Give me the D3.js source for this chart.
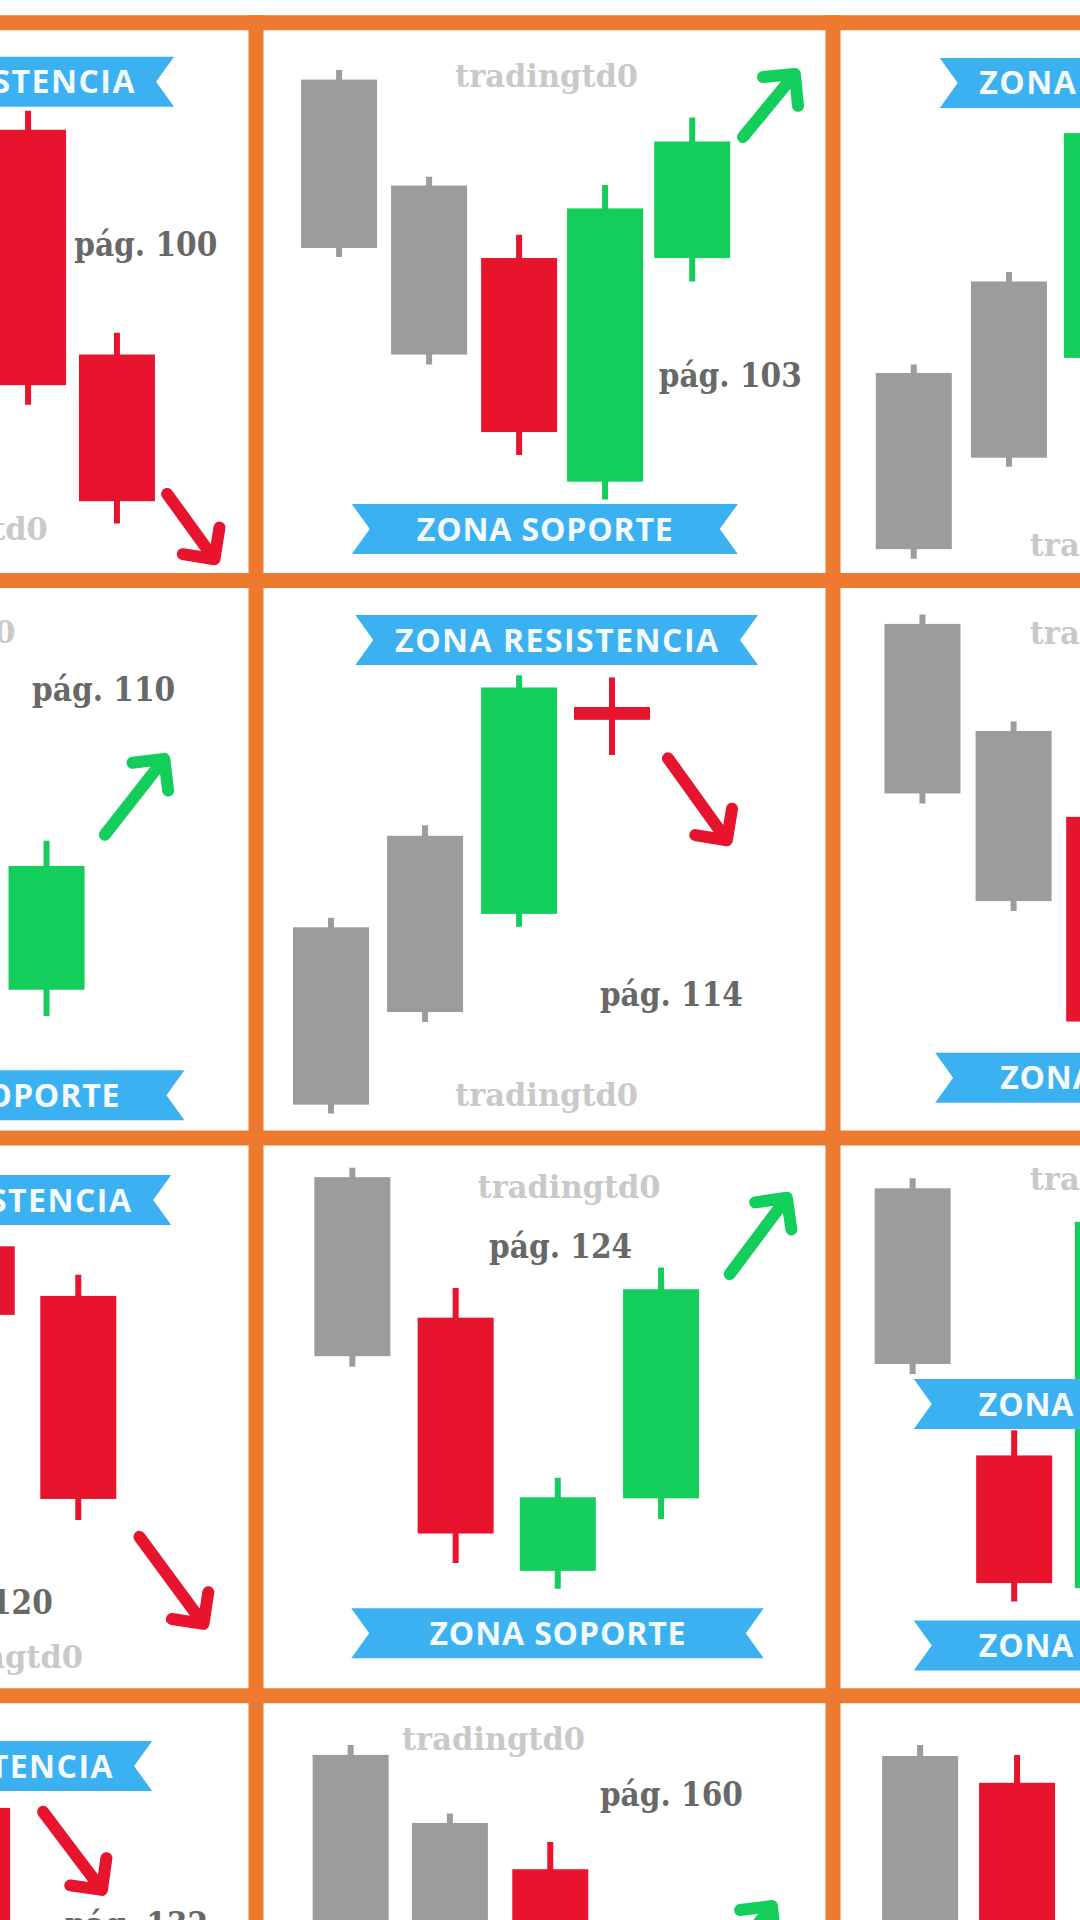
<!DOCTYPE html>
<html><head><meta charset="utf-8">
<script src="https://cdn.jsdelivr.net/npm/d3@7"></script>
<style>html,body{margin:0;padding:0;background:#fff;} svg{display:block;}</style>
</head><body>
<svg id="chart" width="1080" height="1920"></svg>
<script>
// ---------- DATA (panel index = row*3 + col; time 0-100 across a panel, price 0-100 up a panel) ----------
const candlePanel = [0,0, 1,1,1,1,1, 2,2,2, 3, 4,4,4,4, 5,5,5, 6,6, 7,7,7,7, 8,8,8, 9, 10,10,10, 11,11];
const candleTime  = [60.5,75.9, 14.4,30.0,45.6,60.5,75.6, 14.0,30.5,46.6, 63.7, 13.0,29.3,45.6,61.7, 15.5,31.3,47.0, 51.6,69.2, 16.7,34.6,52.3,70.2, 13.8,31.4,48.5, 50.8, 16.4,33.6,51.0, 15.1,31.9];
const candleOpen  = [80.8,40.5, 89.8,70.8,57.8,17.7,57.8, 5.6,22.0,39.9, 26.6, 6.0,22.6,40.2,77.3, 92.2,73.0,57.6, 80.6,71.7, 93.0,67.8,22.4,35.4, 91.0,43.1,19.3, 79.9, 89.4,77.2,68.9, 89.2,84.4];
const candleClose = [35.0,14.2, 59.6,40.5,26.6,66.7,78.7, 37.2,53.6,80.2, 48.8, 37.8,54.2,80.8,75.0, 61.8,42.5,20.9, 68.3,35.3, 60.9,29.1,35.6,72.9, 59.5,20.2,85.0, 45.0, 58.0,45.0,40.0, 55.0,50.0];
const candleHigh  = [84.2,44.4, 91.5,72.4,62.0,70.9,83.0, 38.7,55.3,84.0, 53.3, 39.5,56.1,83.0,82.6, 93.9,74.7,61.0, 83.0,75.5, 94.7,73.1,39.1,76.8, 92.8,47.6,88.0, 83.0, 91.2,78.9,73.8, 91.2,89.4];
const candleLow   = [31.5,10.2, 58.0,38.7,22.5,14.5,53.6, 3.9,20.4,36.0, 21.9, 4.4,20.8,37.9,68.7, 60.0,40.7,17.0, 66.0,31.5, 59.0,23.8,19.2,31.7, 57.7,16.9,16.0, 40.0, 56.0,43.0,36.0, 53.0,46.0];
const candleKind  = ["bear","bear", "prior","prior","bear","bull","bull", "prior","prior","bull", "bull", "prior","prior","bull","bear", "prior","prior","bear", "bear","bear", "prior","bear","bull","bull", "prior","bear","bull", "bear", "prior","prior","bear", "prior","bear"];

const pagePanel  = [0,1,3,4,6,7,9,10];
const pageLabels = ["pág. 100","pág. 103","pág. 110","pág. 114","pág. 120","pág. 124","pág. 132","pág. 160"];
const pageTime   = [68.5,69.8,61.2,59.6,40.0,40.4,66.9,59.6];
const pagePrice  = [58.2,34.7,78.4,23.7,14.7,78.5,56.9,80.2];

const markText  = "tradingtd0";
const markPanel = [0,1,2,3,4,5,6,7,8,10];
const markTime  = [32.2,34.5,34.1,26.6,34.5,34.1,38.3,38.4,34.1,25.3];
const markPrice = [7.2,88.5,4.3,88.7,5.8,88.6,4.9,89.2,90.7,90.2];

const bannerPanel = [0,1,2,3,4,5,6,7,8,8,9];
const bannerText  = ["ZONA RESISTENCIA","ZONA SOPORTE","ZONA RESISTENCIA","ZONA SOPORTE","ZONA RESISTENCIA","ZONA SOPORTE","ZONA RESISTENCIA","ZONA SOPORTE","ZONA SOPORTE","ZONA SOPORTE","ZONA RESISTENCIA"];
const bannerFrom  = [16.1,16.6,18.5,20.7,17.2,17.7,15.4,16.5,14.0,14.0,12.3];
const bannerTo    = [85.8,83.5,88.2,87.6,87.0,84.6,85.3,88.0,80.9,80.9,82.0];
const bannerPrice = [89.4,9.2,89.2,7.7,89.3,10.8,88.9,11.2,52.3,9.0,87.4];

const arrowPanel = [0,1,3,4,6,7,9,10];
const arrowKind  = ["bear","bull","bull","bear","bear","bull","bear","bull"];
const arrowFromT = [84.6,84.4,73.8,71.4,79.8,82.1,63.1,80.1];
const arrowFromP = [15.5,79.5,54.4,68.1,28.5,75.6,79.2,49.9];
const arrowToT   = [92.8,93.4,84.1,81.6,90.9,92.0,73.3,89.4];
const arrowToP   = [3.8,90.8,68.0,53.4,12.9,89.3,65.2,62.3];

// ---------- DRAW ----------
const W = 1080, H = 1920;
const COL0 = -321, COLW = 577, ROW0 = 22.7, ROWH = 557.7;
const colors = {bear:"#E8132C", bull:"#13CE5A", prior:"#9C9C9C"};
const svg = d3.select("#chart");
svg.append("rect").attr("width", W).attr("height", H).attr("fill", "#fff");

const xScales = d3.range(12).map(p => {
  const c = p % 3;
  return d3.scaleLinear().domain([0,100]).range([COL0 + c*COLW, COL0 + (c+1)*COLW]);
});
const yScales = d3.range(12).map(p => {
  const r = Math.floor(p / 3);
  return d3.scaleLinear().domain([0,100]).range([ROW0 + (r+1)*ROWH, ROW0 + r*ROWH]);
});

// watermarks
svg.append("g").selectAll("text").data(markPanel).join("text")
  .attr("x", (p,i) => xScales[p](markTime[i]))
  .attr("y", (p,i) => yScales[p](markPrice[i]))
  .attr("font-family", "DejaVu Serif").attr("font-weight", "bold").attr("font-size", 32)
  .attr("fill", "#C9C9C9").attr("textLength", 183).attr("lengthAdjust", "spacingAndGlyphs")
  .text(markText);

// candles
const candles = candlePanel.map((p,i) => ({p, t:candleTime[i], o:candleOpen[i], c:candleClose[i], h:candleHigh[i], l:candleLow[i], k:candleKind[i]}));
const cg = svg.append("g").selectAll("g").data(candles).join("g");
cg.append("line")
  .attr("x1", d => xScales[d.p](d.t)).attr("x2", d => xScales[d.p](d.t))
  .attr("y1", d => yScales[d.p](d.h)).attr("y2", d => yScales[d.p](d.l))
  .attr("stroke", d => colors[d.k]).attr("stroke-width", 6);
cg.append("rect")
  .attr("x", d => xScales[d.p](d.t) - 38).attr("width", 76)
  .attr("y", d => yScales[d.p](Math.max(d.o, d.c)))
  .attr("height", d => yScales[d.p](Math.min(d.o, d.c)) - yScales[d.p](Math.max(d.o, d.c)))
  .attr("fill", d => colors[d.k]);

// page labels
svg.append("g").selectAll("text").data(pagePanel).join("text")
  .attr("x", (p,i) => xScales[p](pageTime[i]))
  .attr("y", (p,i) => yScales[p](pagePrice[i]))
  .attr("font-family", "DejaVu Serif").attr("font-weight", "bold").attr("font-size", 33)
  .attr("fill", "#686868").attr("textLength", 143).attr("lengthAdjust", "spacingAndGlyphs")
  .text((p,i) => pageLabels[i]);

// arrows
const AL = 32;
svg.append("g").selectAll("path").data(arrowPanel).join("path")
  .attr("d", (p,i) => {
    const x0 = xScales[p](arrowFromT[i]), y0 = yScales[p](arrowFromP[i]);
    const x1 = xScales[p](arrowToT[i]),   y1 = yScales[p](arrowToP[i]);
    const back = Math.atan2(y0 - y1, x0 - x1);
    const a1 = back + Math.PI/4, a2 = back - Math.PI/4;
    const p1 = [x1 + AL*Math.cos(a1), y1 + AL*Math.sin(a1)];
    const p2 = [x1 + AL*Math.cos(a2), y1 + AL*Math.sin(a2)];
    return `M${x0},${y0}L${x1},${y1}M${p1[0]},${p1[1]}L${x1},${y1}L${p2[0]},${p2[1]}`;
  })
  .attr("fill", "none").attr("stroke", (p,i) => colors[arrowKind[i]])
  .attr("stroke-width", 12).attr("stroke-linecap", "round").attr("stroke-linejoin", "round");

// banners
const BH = 50, NOTCH = 18;
const bg = svg.append("g").selectAll("g").data(bannerPanel).join("g");
bg.append("path").attr("d", (p,i) => {
  const x1 = xScales[p](bannerFrom[i]), x2 = xScales[p](bannerTo[i]), cy = yScales[p](bannerPrice[i]);
  return `M${x1},${cy-BH/2}L${x2},${cy-BH/2}L${x2-NOTCH},${cy}L${x2},${cy+BH/2}L${x1},${cy+BH/2}L${x1+NOTCH},${cy}Z`;
}).attr("fill", "#3BB1F1");
bg.append("text")
  .attr("x", (p,i) => (xScales[p](bannerFrom[i]) + xScales[p](bannerTo[i]))/2)
  .attr("y", (p,i) => yScales[p](bannerPrice[i]) + 11.5)
  .attr("text-anchor", "middle")
  .attr("font-family", "Open Sans").attr("font-weight", 700).attr("font-size", 32)
  .attr("fill", "#F4FBFF")
  .attr("textLength", (p,i) => bannerText[i].length > 12 ? 323 : 256).attr("lengthAdjust", "spacing")
  .text((p,i) => bannerText[i]);

// orange frame
const orange = "#EE7A30";
const frame = svg.append("g").attr("stroke", orange).attr("stroke-width", 15);
d3.range(4).forEach(k => frame.append("line").attr("x1", 0).attr("x2", W)
  .attr("y1", ROW0 + k*ROWH).attr("y2", ROW0 + k*ROWH));
d3.range(1,3).forEach(k => frame.append("line").attr("y1", ROW0 - 7.5).attr("y2", H)
  .attr("x1", COL0 + k*COLW).attr("x2", COL0 + k*COLW));
</script>
</body></html>
